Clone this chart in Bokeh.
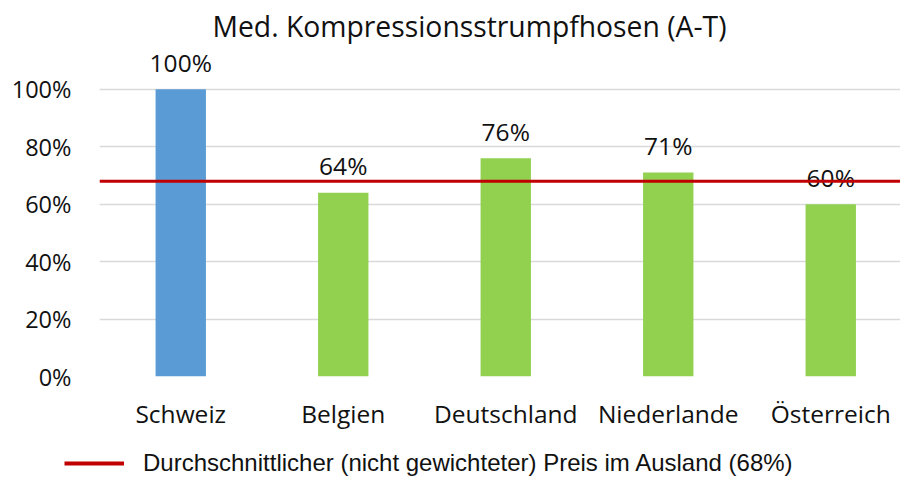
from bokeh.plotting import figure
from bokeh.layouts import column
from bokeh.models import (Range1d, FixedTicker, PrintfTickFormatter, Legend,
                          LegendItem, ColumnDataSource)
from bokeh.embed import file_html
from bokeh.resources import INLINE
from bokeh.core.properties import value

# ---- data ----
title_text = "Med. Kompressionsstrumpfhosen (A-T)"
categories = ["Schweiz", "Belgien", "Deutschland", "Niederlande", "Österreich"]
values = [100, 64, 76, 71, 60]
bar_colors = ["#5B9BD5", "#92D050", "#92D050", "#92D050", "#92D050"]
average = 68
average_label = "Durchschnittlicher (nicht gewichteter) Preis im Ausland (68%)"
y_ticks = [0, 20, 40, 60, 80, 100]

# ---- layout constants ----
W, H = 900, 477
H_MAIN = 432
FRAME_L, FRAME_T, FRAME_B = 99, 46, 378
PX_PER_UNIT = 2.89
CAT_STEP = 162.5
FONT = "Open Sans"
TXT = "#111111"
AVG_COLOR = "#C00000"

x_pos = list(range(len(categories)))
x_start = -0.5
x_end = x_start + (W - FRAME_L) / CAT_STEP
y_end = (FRAME_B - FRAME_T) / PX_PER_UNIT

src = ColumnDataSource(dict(
    x=x_pos, v=values, c=bar_colors, lbl=[f"{v}%" for v in values]))

p = figure(width=W, height=H_MAIN, output_backend="svg", toolbar_location=None,
           x_range=Range1d(x_start, x_end), y_range=Range1d(0, y_end),
           min_border_left=FRAME_L, min_border_right=0,
           min_border_top=FRAME_T, min_border_bottom=H_MAIN - FRAME_B)

p.outline_line_color = None
p.background_fill_color = "white"
p.border_fill_color = "white"

p.title.text = title_text
p.title.text_font = FONT
p.title.text_font_size = "28.3px"
p.title.text_font_style = "normal"
p.title.text_color = TXT
p.title.align = "left"
p.title.offset = 113
p.title.standoff = 4

p.xgrid.grid_line_color = None
p.ygrid.ticker = FixedTicker(ticks=y_ticks)
p.ygrid.grid_line_color = "#D9D9D9"
p.ygrid.grid_line_width = 1.5

p.vbar(x="x", top="v", width=0.31, fill_color="c", line_color=None, source=src)

p.text(x="x", y="v", text="lbl", source=src, text_align="center",
       text_baseline="alphabetic", y_offset=-27,
       text_font=value(FONT), text_font_size="24.5px", text_color=TXT)

p.line(x=[x_start, x_end], y=[average, average],
       line_color=AVG_COLOR, line_width=3)

# axes
xa = p.xaxis[0]
xa.ticker = FixedTicker(ticks=x_pos)
xa.major_label_overrides = {i: c for i, c in zip(x_pos, categories)}
xa.axis_line_color = None
xa.major_tick_line_color = None
xa.minor_tick_line_color = None
xa.major_tick_out = 0
xa.major_tick_in = 0
xa.major_label_standoff = 20
xa.major_label_text_font = FONT
xa.major_label_text_font_size = "24.5px"
xa.major_label_text_color = TXT

ya = p.yaxis[0]
ya.ticker = FixedTicker(ticks=y_ticks)
ya.formatter = PrintfTickFormatter(format="%d%%")
ya.axis_line_color = None
ya.major_tick_line_color = None
ya.minor_tick_line_color = None
ya.major_tick_out = 0
ya.major_tick_in = 0
ya.major_label_standoff = 28
ya.major_label_text_font = FONT
ya.major_label_text_font_size = "23.5px"
ya.major_label_text_color = TXT

# ---- legend strip below the chart ----
pl = figure(width=W, height=H - H_MAIN, output_backend="svg", toolbar_location=None,
            x_range=Range1d(0, 1), y_range=Range1d(0, 1),
            x_axis_location=None, y_axis_location=None,
            min_border=0)
pl.outline_line_color = None
pl.grid.visible = False
for fig in (p, pl):
    if "frame_align" in fig.properties():
        fig.frame_align = False
# legend proxy: a single-point line (draws nothing itself)
leg_r = pl.line(x=[-1], y=[-1], line_color=AVG_COLOR, line_width=4)
legend = Legend(items=[LegendItem(label=average_label, renderers=[leg_r])],
                location=(64, 0), orientation="horizontal",
                border_line_color=None, background_fill_alpha=0,
                padding=0, margin=0, spacing=0,
                glyph_width=60, glyph_height=24, label_standoff=19,
                label_text_font="Liberation Sans", label_text_font_size="24px",
                label_text_color=TXT, label_height=24)
pl.add_layout(legend)

layout = column(p, pl, spacing=0)
open("out.html", "w").write(file_html(layout, INLINE))
